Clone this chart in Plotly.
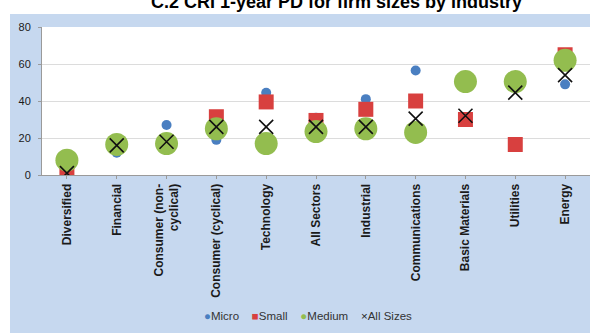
import plotly.graph_objects as go

categories = ["Diversified", "Financial", "Consumer (non-<br>cyclical)", "Consumer (cyclical)",
              "Technology", "All Sectors", "Industrial", "Communications",
              "Basic Materials", "Utilities", "Energy"]
micro = [0, 12, 27, 19, 44.5, 31, 41, 56.5, 50, 50, 49]
small = [1, 16, 17.5, 31.5, 39.5, 29.5, 35.5, 40, 30, 16.5, 65]
medium = [8, 16.5, 17, 25, 17, 23.5, 25, 23, 50.5, 50.5, 62]
all_sizes = [1, 16, 18, 26, 26, 26, 26, 30.5, 32, 44.5, 54]
y_ticks = [0, 20, 40, 60, 80]

C_MICRO = "#4a7fc1"
C_SMALL = "#d8403f"
C_MEDIUM = "#93bd4f"

W, H = 590, 333
L, R, T, B = 42, 0, 27, 158
pw, ph = W - L - R, H - T - B

def px_x(p):
    return (p - L) / pw

def px_y(p):
    return (H - B - p) / ph

fig = go.Figure()

series = [
    ("Micro", micro, dict(symbol="circle", size=10, color=C_MICRO)),
    ("Small", small, dict(symbol="square", size=15, color=C_SMALL)),
    ("Medium", medium, dict(symbol="circle", size=23, color=C_MEDIUM)),
    ("All Sizes", all_sizes, dict(symbol="x-thin", size=14, color="#111111",
                                   line=dict(width=1.6, color="#111111"))),
]
for name, vals, mk in series:
    fig.add_trace(go.Scatter(x=categories, y=vals, mode="markers", name=name,
                             marker=mk, showlegend=False, hoverinfo="x+y+name"))

# light blue panel, with the white plotting area on top of it
fig.add_shape(type="rect", xref="paper", yref="paper",
              x0=px_x(10), x1=px_x(592), y0=px_y(336), y1=px_y(14),
              fillcolor="#c6d8ef", line=dict(width=0), layer="below")
fig.add_shape(type="rect", xref="paper", yref="paper",
              x0=0, x1=1, y0=0, y1=1,
              fillcolor="white", line=dict(width=0), layer="below")

fig.add_annotation(text="<b>C.2 CRI 1-year PD for firm sizes by industry</b>",
                   xref="paper", yref="paper", x=px_x(336), y=px_y(2),
                   xanchor="center", yanchor="middle", showarrow=False,
                   font=dict(family="Liberation Sans, Arial", size=18, color="#000000"))

# compact legend line
legend_items = [("●", C_MICRO, "Micro"), ("■", C_SMALL, "Small"),
                ("●", C_MEDIUM, "Medium"), ("×", "#222222", "All Sizes")]
gap = "&nbsp;" * 4
legend_text = gap.join(
    f"<span style='color:{c}'>{s}</span>{n}" for s, c, n in legend_items)
fig.add_annotation(text=legend_text, xref="paper", yref="paper",
                   x=px_x(308), y=px_y(316), xanchor="center", yanchor="middle",
                   showarrow=False,
                   font=dict(family="Liberation Sans, Arial", size=11.5, color="#333333"))

fig.update_layout(
    width=W, height=H,
    margin=dict(l=L, r=R, t=T, b=B),
    paper_bgcolor="white",
    plot_bgcolor="white",
    font=dict(family="Liberation Sans, Arial", color="#1a1a1a"),
    showlegend=False,
)
fig.update_xaxes(
    type="category", categoryorder="array", categoryarray=categories,
    range=[-0.5, 10.5], tickangle=-90, showgrid=False,
    showline=True, linecolor="#9a9a9a", linewidth=1,
    ticks="outside", ticklen=3, tickcolor="#9a9a9a",
    tickfont=dict(size=12, family="Liberation Sans, Arial", color="#1a1a1a"),
    tickprefix="<b>", ticksuffix="</b>",
)
fig.update_yaxes(
    range=[0, 80], tickvals=y_ticks, showgrid=True, gridcolor="#dcdcdc",
    showline=True, linecolor="#9a9a9a", linewidth=1, zeroline=False,
    ticks="outside", ticklen=3, tickcolor="#9a9a9a", ticklabelstandoff=5,
    tickfont=dict(size=11, family="Liberation Sans, Arial", color="#1a1a1a"),
    tickprefix="<b>", ticksuffix="</b>",
)

fig.write_html("out.html")
